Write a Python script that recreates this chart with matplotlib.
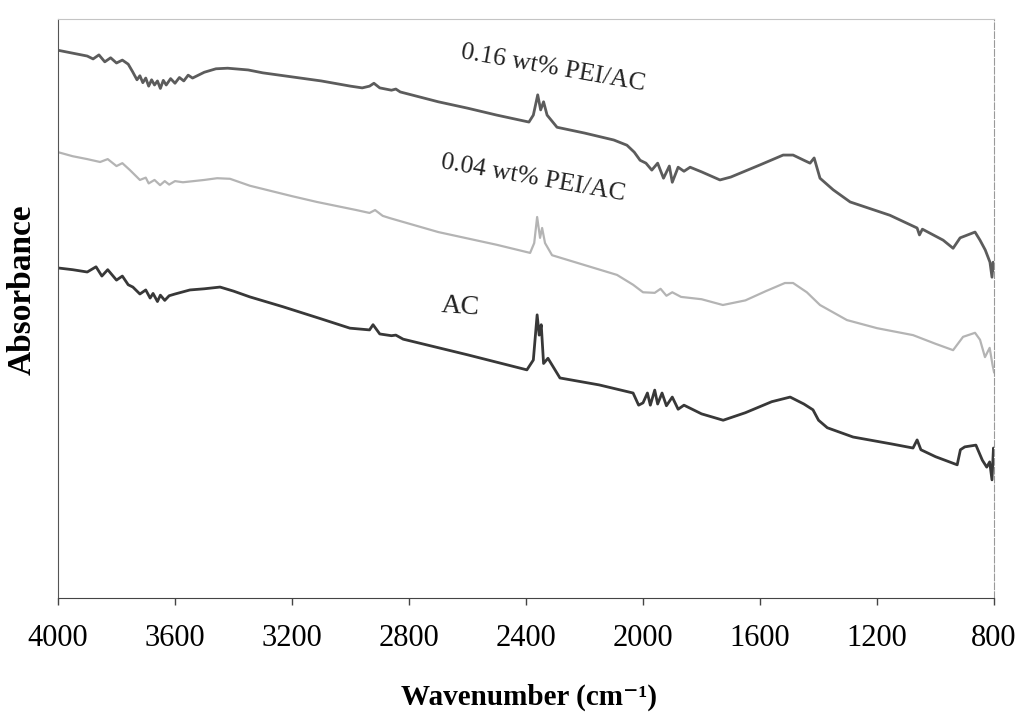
import matplotlib.pyplot as plt

# FTIR spectra, absorbance in arbitrary units
wn_hi = [4000, 3950, 3900, 3880, 3860, 3840, 3820, 3800, 3780, 3760, 3745, 3730, 3720,
         3710, 3700, 3690, 3680, 3670, 3660, 3650, 3640, 3630, 3615, 3600, 3585, 3570,
         3555, 3540, 3500, 3460, 3420, 3350, 3300, 3200, 3100, 3000, 2960, 2935, 2920,
         2900, 2860, 2845, 2830, 2700, 2600, 2500, 2390, 2375, 2360, 2350, 2340, 2328,
         2294, 2200, 2100, 2055, 2030, 2010, 1990, 1970, 1950, 1930, 1910, 1900, 1880,
         1860, 1839, 1800, 1737, 1700, 1600, 1521, 1487, 1450, 1429, 1415, 1395, 1350,
         1292, 1156, 1063, 1055, 1045, 974, 940, 916, 865, 848, 830, 814, 807, 803, 800]
abs_hi = [0.946, 0.941, 0.936, 0.931, 0.938, 0.926, 0.933, 0.924, 0.929, 0.922, 0.909,
          0.895, 0.902, 0.890, 0.898, 0.884, 0.895, 0.886, 0.893, 0.880, 0.894, 0.886,
          0.897, 0.889, 0.899, 0.893, 0.903, 0.898, 0.908, 0.914, 0.915, 0.912, 0.907,
          0.900, 0.893, 0.884, 0.881, 0.884, 0.889, 0.881, 0.877, 0.879, 0.874, 0.857,
          0.846, 0.834, 0.822, 0.834, 0.869, 0.843, 0.857, 0.834, 0.813, 0.803, 0.791,
          0.782, 0.770, 0.756, 0.751, 0.739, 0.751, 0.725, 0.746, 0.718, 0.744, 0.737,
          0.744, 0.736, 0.722, 0.727, 0.748, 0.765, 0.765, 0.756, 0.751, 0.760, 0.725,
          0.705, 0.684, 0.661, 0.639, 0.627, 0.637, 0.618, 0.604, 0.622, 0.632, 0.618,
          0.601, 0.580, 0.554, 0.580, 0.566]

wn_lo = [4000, 3950, 3900, 3856, 3830, 3800, 3780, 3754, 3720, 3700, 3690, 3670, 3651,
         3635, 3620, 3600, 3573, 3500, 3456, 3412, 3344, 3200, 3115, 2980, 2935, 2916,
         2890, 2865, 2700, 2500, 2386, 2372, 2362, 2352, 2345, 2335, 2311, 2200, 2089,
         2034, 2000, 1960, 1940, 1920, 1900, 1870, 1800, 1727, 1650, 1580, 1515, 1487,
         1440, 1395, 1303, 1200, 1077, 1000, 940, 906, 865, 848, 831, 815, 805, 800]
abs_lo = [0.770, 0.763, 0.758, 0.753, 0.758, 0.746, 0.751, 0.739, 0.722, 0.726, 0.716,
          0.722, 0.713, 0.720, 0.714, 0.720, 0.718, 0.722, 0.725, 0.724, 0.712, 0.694,
          0.684, 0.670, 0.665, 0.670, 0.660, 0.656, 0.632, 0.610, 0.596, 0.613, 0.658,
          0.622, 0.639, 0.613, 0.592, 0.575, 0.558, 0.541, 0.528, 0.527, 0.534, 0.522,
          0.528, 0.520, 0.516, 0.506, 0.514, 0.530, 0.544, 0.544, 0.528, 0.506, 0.480,
          0.466, 0.454, 0.439, 0.428, 0.451, 0.458, 0.446, 0.416, 0.432, 0.402, 0.390]

wn_ac = [4000, 3950, 3900, 3870, 3850, 3830, 3800, 3780, 3760, 3744, 3720, 3700, 3685,
         3675, 3660, 3650, 3635, 3620, 3600, 3549, 3500, 3446, 3400, 3344, 3231, 3100,
         3002, 2935, 2923, 2900, 2860, 2845, 2820, 2600, 2397, 2375, 2362, 2355, 2348,
         2340, 2325, 2284, 2150, 2034, 2015, 2000, 1985, 1975, 1960, 1950, 1935, 1920,
         1900, 1880, 1860, 1800, 1726, 1650, 1560, 1497, 1450, 1419, 1400, 1370, 1282,
         1150, 1077, 1063, 1050, 1000, 926, 915, 900, 862, 840, 825, 815, 807, 802, 800]
abs_ac = [0.570, 0.567, 0.563, 0.572, 0.556, 0.567, 0.549, 0.556, 0.541, 0.537, 0.525,
          0.532, 0.518, 0.526, 0.512, 0.523, 0.514, 0.522, 0.525, 0.532, 0.534, 0.537,
          0.530, 0.520, 0.503, 0.482, 0.466, 0.463, 0.472, 0.456, 0.453, 0.454, 0.447,
          0.420, 0.394, 0.411, 0.489, 0.454, 0.472, 0.405, 0.414, 0.380, 0.368, 0.354,
          0.333, 0.337, 0.354, 0.333, 0.359, 0.335, 0.354, 0.332, 0.347, 0.326, 0.333,
          0.318, 0.307, 0.320, 0.339, 0.347, 0.335, 0.325, 0.307, 0.294, 0.278, 0.266,
          0.259, 0.273, 0.256, 0.244, 0.230, 0.256, 0.261, 0.264, 0.238, 0.226, 0.235,
          0.204, 0.259, 0.247]

x_ticks = [4000, 3600, 3200, 2800, 2400, 2000, 1600, 1200, 800]

plt.rcParams['font.family'] = ['Liberation Serif', 'DejaVu Serif']

fig = plt.figure(figsize=(10.21, 7.14), dpi=100)
ax = fig.add_axes([0.0568, 0.1625, 0.9168, 0.8109])

ax.plot(wn_hi, abs_hi, color='#5c5c5c', lw=2.0)
ax.plot(wn_lo, abs_lo, color='#b4b4b4', lw=1.6)
ax.plot(wn_ac, abs_ac, color='#383838', lw=2.0)

ax.text(2308, 0.915, '0.16 wt% PEI/AC', fontsize=18.5, rotation=-10, ha='center', va='center', color='#222222')
ax.text(2376, 0.725, '0.04 wt% PEI/AC', fontsize=18.5, rotation=-10, ha='center', va='center', color='#222222')
ax.text(2626, 0.503, 'AC', fontsize=20, rotation=-4, ha='center', va='center', color='#222222')

ax.set_xlim(4000, 800)
ax.set_ylim(0, 1)
ax.set_xticks(x_ticks)
ax.set_yticks([])
ax.tick_params(axis='x', direction='out', length=5, width=1, color='#444444', labelsize=22, pad=14)

ax.spines['left'].set_color('#555555')
ax.spines['bottom'].set_color('#444444')
ax.spines['top'].set_color('#c4c4c4')
ax.spines['right'].set_color('#9a9a9a')
ax.spines['right'].set_linestyle((0, (6, 2)))

fig.text(0.518, 0.024, 'Wavenumber (cm⁻¹)', fontsize=21, fontweight='bold', ha='center', va='center')
fig.text(0.022, 0.594, 'Absorbance', fontsize=24, fontweight='bold', rotation=90, ha='center', va='center')

fig.savefig('out.png', dpi=100)
